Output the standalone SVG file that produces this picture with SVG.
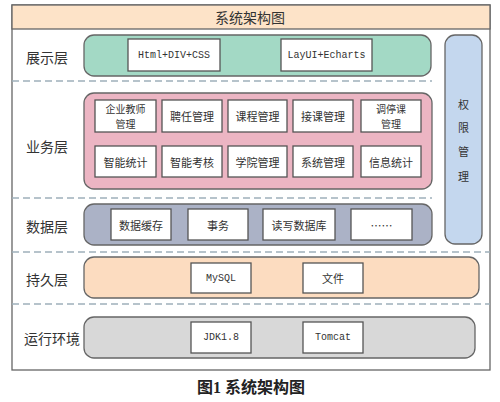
<svg xmlns="http://www.w3.org/2000/svg" width="500" height="402" viewBox="0 0 500 402">
<style>
text{font-family:"Noto Sans CJK SC","Noto Sans",sans-serif;fill:#333;text-anchor:middle;dominant-baseline:central}
.lbl{font-size:14px}
.box{fill:#fff;stroke:#555;stroke-width:1.3}
.bt{font-size:11px}
.bt2{font-size:10px}
.mono{font-family:"Liberation Mono",monospace;font-size:10px}
.band{stroke:#666;stroke-width:1.3}
.dash{stroke:#9fb0ba;stroke-width:1.3;stroke-dasharray:7 4}
</style>
<rect width="500" height="402" fill="#fff"/>
<g id="frame">
<rect x="12" y="5" width="478" height="365" fill="#fff" stroke="#666" stroke-width="1.3"/>
<rect x="12" y="5" width="478" height="24" fill="#fde3c8" stroke="#666" stroke-width="1.3"/>
<text x="250" y="17" class="lbl">系统架构图</text>
</g>
<g id="dividers">
<line x1="12" y1="81" x2="432" y2="81" class="dash"/>
<line x1="12" y1="198" x2="432" y2="198" class="dash"/>
<line x1="12" y1="252" x2="490" y2="252" class="dash"/>
<line x1="12" y1="304" x2="490" y2="304" class="dash"/>
</g>
<g id="labels">
<text x="47" y="57" class="lbl">展示层</text>
<text x="47" y="146" class="lbl">业务层</text>
<text x="47" y="226" class="lbl">数据层</text>
<text x="47" y="279" class="lbl">持久层</text>
<text x="52" y="338" class="lbl">运行环境</text>
</g>
<g id="presentation">
<rect x="84" y="35" width="347" height="41" rx="10" fill="#a3d9c5" class="band"/>
<rect x="128" y="39" width="92" height="32" class="box"/>
<text x="174" y="55" class="mono">Html+DIV+CSS</text>
<rect x="281" y="39" width="91" height="32" class="box"/>
<text x="326.5" y="55" class="mono">LayUI+Echarts</text>
</g>
<g id="business">
<rect x="84" y="93" width="348" height="96" rx="10" fill="#ecb5c3" class="band"/>
<rect x="95" y="100" width="61" height="32" class="box"/>
<text x="125.5" y="108.5" class="bt2">企业教师</text>
<text x="125.5" y="123.5" class="bt2">管理</text>
<rect x="162" y="100" width="60" height="32" class="box"/>
<text x="192" y="116" class="bt">聘任管理</text>
<rect x="228" y="100" width="59" height="32" class="box"/>
<text x="257.5" y="116" class="bt">课程管理</text>
<rect x="293" y="100" width="60" height="32" class="box"/>
<text x="323" y="116" class="bt">接课管理</text>
<rect x="361" y="100" width="60" height="32" class="box"/>
<text x="391" y="108.5" class="bt2">调停课</text>
<text x="391" y="123.5" class="bt2">管理</text>
<rect x="95" y="146" width="61" height="31" class="box"/>
<text x="125.5" y="161.5" class="bt">智能统计</text>
<rect x="162" y="146" width="60" height="31" class="box"/>
<text x="192" y="161.5" class="bt">智能考核</text>
<rect x="228" y="146" width="59" height="31" class="box"/>
<text x="257.5" y="161.5" class="bt">学院管理</text>
<rect x="293" y="146" width="60" height="31" class="box"/>
<text x="323" y="161.5" class="bt">系统管理</text>
<rect x="361" y="146" width="60" height="31" class="box"/>
<text x="391" y="161.5" class="bt">信息统计</text>
</g>
<g id="data">
<rect x="84" y="204" width="348" height="41" rx="10" fill="#abb2c6" class="band"/>
<rect x="111" y="209" width="60" height="31" class="box"/>
<text x="141" y="224.5" class="bt">数据缓存</text>
<rect x="188" y="209" width="60" height="31" class="box"/>
<text x="218" y="224.5" class="bt">事务</text>
<rect x="263" y="209" width="72" height="31" class="box"/>
<text x="299" y="224.5" class="bt">读写数据库</text>
<rect x="351" y="209" width="61" height="31" class="box"/>
<text x="381.5" y="224.5" class="bt">……</text>
</g>
<g id="persistence">
<rect x="84" y="257" width="395" height="41" rx="10" fill="#fcdcc0" class="band"/>
<rect x="191" y="263" width="60" height="30" class="box"/>
<text x="221" y="278" class="mono">MySQL</text>
<rect x="303" y="263" width="60" height="30" class="box"/>
<text x="333" y="278" class="bt">文件</text>
</g>
<g id="runtime">
<rect x="84" y="317" width="391" height="41" rx="10" fill="#d8d8d8" class="band"/>
<rect x="191" y="322" width="60" height="31" class="box"/>
<text x="221" y="337.5" class="mono">JDK1.8</text>
<rect x="303" y="322" width="60" height="31" class="box"/>
<text x="333" y="337.5" class="mono">Tomcat</text>
</g>
<g id="permission">
<rect x="445" y="35" width="37" height="209" rx="10" fill="#c4d7ee" stroke="#666" stroke-width="1.3"/>
<text x="463.5" y="104" class="bt">权</text>
<text x="463.5" y="127" class="bt">限</text>
<text x="463.5" y="151" class="bt">管</text>
<text x="463.5" y="176" class="bt">理</text>
</g>
<text x="251" y="387" style="font-family:'Liberation Serif','Noto Sans CJK SC',serif;font-size:16px;font-weight:bold;fill:#222">图1 系统架构图</text>
</svg>
